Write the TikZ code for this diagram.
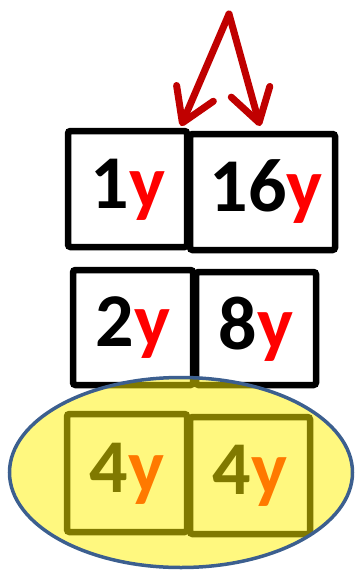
\documentclass[tikz,border=0pt]{standalone}
\usepackage{fontspec}
\setmainfont{Carlito}
\usetikzlibrary{arrows.meta,shapes.geometric}
\definecolor{arrowred}{HTML}{C00000}
\definecolor{yred}{HTML}{FF0000}
\definecolor{ellborder}{HTML}{3C5F8F}
\begin{document}
\begin{tikzpicture}[x=1pt,y=-1pt,
  box/.style={draw=black,line width=6.5pt,rounded corners=2.5pt,fill=white},
  lbl/.style={font=\fontsize{76}{76}\selectfont\bfseries,inner sep=0pt},
  redarrow/.style={draw=arrowred,line width=7pt,line cap=round,line join=round,
    -{Straight Barb[length=32pt,width=40pt,line cap=round,line join=round]}}]
\useasboundingbox (0,0) rectangle (356,570);
% boxes
\path[box] (68,131) rectangle (187,247);
\path[box] (190,134) rectangle (335,250);
\path[box] (73,270) rectangle (193,385);
\path[box] (196,272) rectangle (316,385);
\path[box] (67,414) rectangle (187,532);
\path[box] (190,417) rectangle (310,534);
% labels
\node[lbl] (t1) at (128,190) {1\textcolor{yred}{y}};
\node[lbl] (t16) at (266,192) {16\textcolor{yred}{y}};
\node[lbl] (t2) at (133,328) {2\textcolor{yred}{y}};
\node[lbl] (t8) at (256,329) {8\textcolor{yred}{y}};
\node[lbl] (t4a) at (127,474) {4\textcolor{yred}{y}};
\node[lbl] (t4b) at (250,476) {4\textcolor{yred}{y}};
% ellipse overlay
\node[draw=ellborder,line width=3.5pt,fill=yellow,fill opacity=0.5,draw opacity=1,
  ellipse,minimum width=343pt,minimum height=190pt,inner sep=0pt] (ell) at (181,472.5) {};
% arrows
\coordinate (apex) at (229,14);
\coordinate (tipL) at (181,126);
\coordinate (tipR) at (260,126);
\draw[redarrow] (apex) -- (tipL);
\draw[redarrow] (apex) -- (tipR);
\end{tikzpicture}
\end{document}
